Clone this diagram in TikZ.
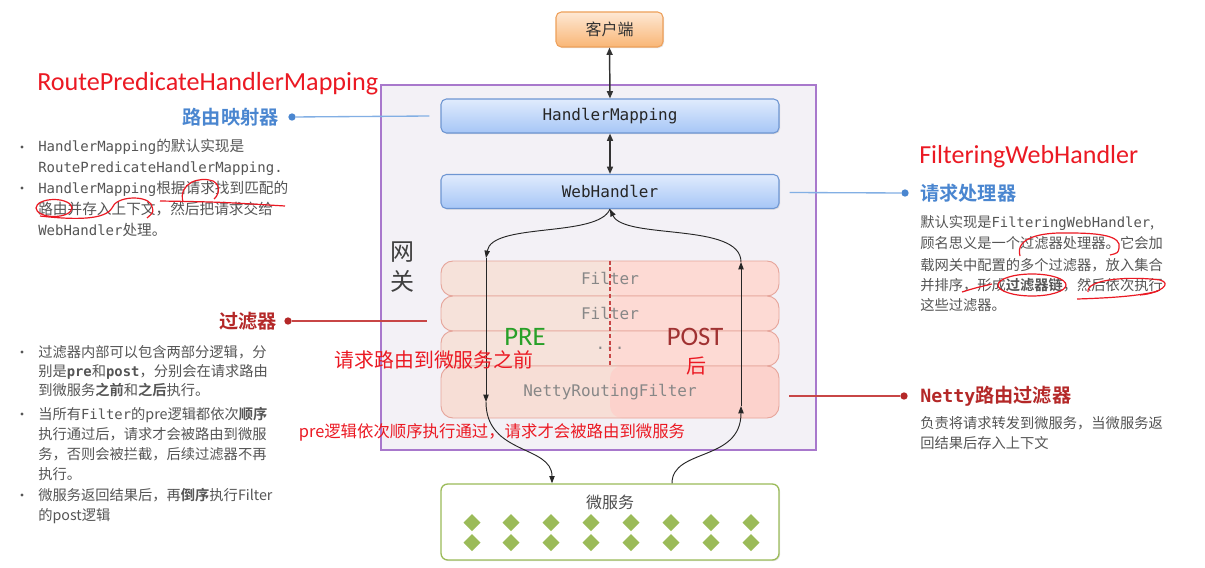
\documentclass[tikz,border=0pt]{standalone}
\usepackage{fontspec}
\setmainfont{Noto Sans CJK SC}[BoldFont={Noto Sans CJK SC Bold}]
\setmonofont{DejaVu Sans Mono}
\newfontfamily\carl{Carlito}
\usetikzlibrary{arrows.meta,shadows,calc}
\definecolor{gwfill}{RGB}{243,241,246}
\definecolor{gwdraw}{RGB}{168,120,204}
\definecolor{hmtop}{RGB}{224,235,253}
\definecolor{hmbot}{RGB}{166,198,246}
\definecolor{hmdraw}{RGB}{110,150,210}
\definecolor{cltop}{RGB}{254,232,212}
\definecolor{clbot}{RGB}{249,182,118}
\definecolor{cldraw}{RGB}{238,160,90}
\definecolor{fL}{RGB}{246,226,218}
\definecolor{fR}{RGB}{253,218,212}
\definecolor{fL2}{RGB}{247,222,214}
\definecolor{fR2}{RGB}{252,210,204}
\definecolor{fdraw}{RGB}{230,165,155}
\definecolor{msdraw}{RGB}{155,187,89}
\definecolor{dia}{RGB}{155,187,89}
\definecolor{txt}{RGB}{85,85,85}
\definecolor{hblue}{RGB}{74,134,208}
\definecolor{lblue}{RGB}{130,175,228}
\definecolor{hred}{RGB}{180,40,40}
\definecolor{lred}{RGB}{200,70,70}
\definecolor{annot}{RGB}{235,25,35}
\definecolor{pregreen}{RGB}{40,160,40}
\definecolor{postred}{RGB}{160,50,50}
\definecolor{ftxt}{RGB}{135,135,135}
\newcommand\mo[1]{{\ttfamily\fontsize{10.4pt}{12pt}\selectfont #1}}
\newcommand\moa[1]{{\ttfamily\fontsize{10.5pt}{12pt}\selectfont #1}}
\begin{document}
\begin{tikzpicture}[x=0.75pt,y=-0.75pt,
  shad/.style={drop shadow={shadow xshift=0.8pt,shadow yshift=-0.8pt,opacity=0.22}},
  bluebox/.style={draw=hmdraw,line width=0.8pt,rounded corners=4pt,top color=hmtop,bottom color=hmbot,
    minimum width=253.5pt,minimum height=25.5pt,inner sep=0,font=\fontsize{12pt}{12pt}\selectfont\ttfamily,text=black!85,shad},
  filt/.style={draw=fdraw,line width=0.7pt,rounded corners=9pt,fill=fL,minimum width=253.5pt,minimum height=26.25pt,
    inner sep=0,font=\fontsize{12pt}{12pt}\selectfont\ttfamily,text=ftxt,
    path picture={\fill[fR] (path picture bounding box.north) rectangle (path picture bounding box.south east);}},
  filtB/.style={filt,fill=fL2,minimum height=39pt,
    path picture={\fill[fR2] (path picture bounding box.north) rectangle (path picture bounding box.south east);}},
  dbl/.style={{Triangle[length=5.5pt,width=4.5pt]}-{Triangle[length=5.5pt,width=4.5pt]},line width=1.1pt,draw=black!80},
  arr/.style={-{Triangle[length=5.5pt,width=4pt]},line width=0.7pt,draw=black!85},
  para/.style={anchor=base west,inner sep=0,font=\fontsize{10.7pt}{12pt}\selectfont,text=txt},
  paraA/.style={anchor=base west,inner sep=0,font=\fontsize{11pt}{12pt}\selectfont,text=txt},
  hdr/.style={inner sep=0,font=\fontsize{14.4pt}{16pt}\selectfont\bfseries},
  ann/.style={draw=annot,line width=0.9pt},
  redt/.style={inner sep=0,text=annot},
  dotb/.style={circle,fill=hblue,inner sep=0,minimum size=5.5pt},
  dotr/.style={circle,fill=hred,inner sep=0,minimum size=5.5pt}]
\useasboundingbox[fill=white] (0,0) rectangle (1205,567);
% gateway
\draw[fill=gwfill,draw=gwdraw,line width=1pt] (381,85) rectangle (816,450);
\node[inner sep=0,align=center,text=black!75,font=\fontsize{18pt}{22.5pt}\selectfont] (gw) at (402,267) {网\\关};
% client and boxes
\node[draw=cldraw,line width=0.8pt,rounded corners=4pt,top color=cltop,bottom color=clbot,minimum width=80.25pt,minimum height=26.25pt,inner sep=0,font=\fontsize{12pt}{14pt}\selectfont,text=black!80,shad] (cl) at (609.5,29.5) {客户端};
\node[bluebox] (hm) at (610,116) {HandlerMapping};
\node[bluebox] (wh) at (610,191.5) {WebHandler};
\draw[dbl] (cl.south) -- (hm.north);
\draw[dbl] (hm.south) -- (wh.north);
% filters
\node[filt] (f1) at (610,278.5) {Filter};
\node[filt] (f2) at (610,313.5) {Filter};
\node[filt] (f3) at (610,348.5) {...};
\node[filtB] (f4) at (610,392) {NettyRoutingFilter};
\draw[lred,line width=0.8pt,dash pattern=on 3pt off 2pt] (f1.north) -- (f4.north);
% microservice
\node[draw=msdraw,line width=1pt,fill=white,rounded corners=5pt,minimum width=253.5pt,minimum height=57pt,shad] (ms) at (610,522) {};
\node[inner sep=0,text=black!70,font=\fontsize{12pt}{14pt}\selectfont] (msl) at (610,502) {微服务};
\foreach \x in {472,511,551,591,631,671,711,751}{
  \foreach \y in {522.7,542.7}{
    \fill[dia] ({\x},{\y-8.5}) -- ({\x+8.5},{\y}) -- ({\x},{\y+8.5}) -- ({\x-8.5},{\y}) -- cycle;
  }}
% flow arrows
\coordinate (pL1) at (486,258);
\coordinate (pL2) at (486,402);
\coordinate (pR1) at (741,262);
\coordinate (pR2) at (741,406);
\coordinate (msL) at ($(ms.north)+(-58,0)$);
\coordinate (msR) at ($(ms.north)+(62,0)$);
\draw[arr] (wh.south) .. controls (598,238) and (492,222) .. (pL1);
\draw[arr] (pL1) -- (pL2);
\draw[arr] (pL2) .. controls (486,455) and (552,445) .. (msL);
\draw[arr] (msR) .. controls (672,448) and (741,462) .. (pR2);
\draw[arr] (pR2) -- (pR1);
\draw[arr] (pR1) .. controls (741,222) and (624,240) .. (wh.south);
% PRE / POST labels
\node[inner sep=0,text depth=0pt,text=pregreen,font=\carl\fontsize{20pt}{22pt}\selectfont] (pre) at (525,337) {PRE};
\node[inner sep=0,text depth=0pt,text=postred,font=\carl\fontsize{20pt}{22pt}\selectfont] (post) at (695,337) {POST};
\node[redt,font=\fontsize{15pt}{16pt}\selectfont] (hou) at (696,366) {后};
\node[redt,font=\fontsize{14.9pt}{16pt}\selectfont] (before) at (434,360) {请求路由到微服务之前};
\node[redt,font=\fontsize{12.3pt}{14pt}\selectfont] (prenote) at (492,432) {pre逻辑依次顺序执行通过，请求才会被路由到微服务};
% left: route mapping
\node[redt,anchor=west,font=\carl\fontsize{19.6pt}{22pt}\selectfont] (rphm) at (37,84) {RoutePredicateHandlerMapping};
\node[hdr,anchor=east,text=hblue] (h1) at (279,117) {路由映射器};
\node[dotb] (d1) at (292,117) {};
\coordinate (e1) at ($(hm.west)+(-11,0)$);
\draw[lblue,line width=1pt] (d1) -- (e1);
\fill[txt] (22,147) circle (1.6);
\fill[txt] (22,188) circle (1.6);
\node[paraA] (a1) at (38,151) {\moa{HandlerMapping}的默认实现是};
\node[paraA] (a2) at (38,172) {\moa{RoutePredicateHandlerMapping.}};
\node[paraA] (a3) at (38,193) {\moa{HandlerMapping}根据请求找到匹配的};
\node[paraA] (a4) at (38,214) {路由并存入上下文，然后把请求交给};
\node[paraA] (a5) at (38,235) {\moa{WebHandler}处理。};
% left annotations
\draw[ann] (183,202) .. controls (178,183) and (200,176) .. (213,181) .. controls (222,186) and (218,196) .. (214,199);
\draw[ann] (160,201) .. controls (220,202) .. (285,206);
\draw[ann] (54,208) ellipse [x radius=18, y radius=8.5];
\draw[ann] (40,216) .. controls (75,220) and (105,220) .. (112,208) .. controls (116,196) and (145,195) .. (151,204) .. controls (154,212) .. (147,218);
% left: filters
\node[hdr,anchor=east,text=hred] (h2) at (277,321) {过滤器};
\node[dotr] (d2) at (288,321) {};
\coordinate (e2) at (427,321);
\draw[lred,line width=1pt] (d2) -- (e2);
\fill[txt] (22,352) circle (1.6);
\fill[txt] (22,414) circle (1.6);
\fill[txt] (22,495) circle (1.6);
\node[para] (b1) at (38,357) {过滤器内部可以包含两部分逻辑，分};
\node[para] (b2) at (38,376) {别是\textbf{\mo{pre}}和\textbf{\mo{post}}，分别会在请求路由};
\node[para] (b3) at (38,395) {到微服务\textbf{之前}和\textbf{之后}执行。};
\node[para] (b4) at (38,419) {当所有\mo{Filter}的pre逻辑都依次\textbf{顺序}};
\node[para] (b5) at (38,439) {执行通过后，请求才会被路由到微服};
\node[para] (b6) at (38,459) {务，否则会被拦截，后续过滤器不再};
\node[para] (b7) at (38,479) {执行。};
\node[para] (b8) at (38,500) {微服务返回结果后，再\textbf{倒序}执行Filter};
\node[para] (b9) at (38,520) {的post逻辑};
% right: web handler
\node[redt,anchor=west,font=\carl\fontsize{19.5pt}{22pt}\selectfont] (fwh) at (919,157) {FilteringWebHandler};
\node[dotb] (d3) at (905,193) {};
\node[hdr,anchor=west,text=hblue] (h3) at (920,193) {请求处理器};
\coordinate (e3) at ($(wh.east)+(10,1)$);
\draw[lblue,line width=1pt] (e3) -- (d3);
\node[para] (c1) at (920,227) {默认实现是\mo{FilteringWebHandler},};
\node[para] (c2) at (920,248) {顾名思义是一个过滤器处理器。它会加};
\node[para] (c3) at (920,270) {载网关中配置的多个过滤器，放入集合};
\node[para] (c4) at (920,290) {并排序，形成\textbf{过滤器链}，然后依次执行};
\node[para] (c5) at (920,310) {这些过滤器。};
% right annotations
\draw[ann] (1020,256) .. controls (1015,238) and (1040,232) .. (1070,233) .. controls (1100,233) and (1122,236) .. (1119,248) .. controls (1118,253) .. (1110,255);
\draw[ann] (962,292) .. controls (975,288) .. (992,284);
\draw[ann] (1032,285) ellipse [x radius=34, y radius=11];
\draw[ann] (1088,292) .. controls (1086,279) and (1130,276) .. (1160,280) .. controls (1172,283) and (1162,293) .. (1140,295);
\draw[ann] (1077,299) .. controls (1110,298) and (1140,296) .. (1158,291);
% right: netty
\node[dotr] (d4) at (904,396) {};
\node[hdr,anchor=west,text=hred] (h4) at (920,396) {{\ttfamily\fontsize{13.7pt}{16pt}\selectfont Netty}路由过滤器};
\coordinate (e4) at (789,396);
\draw[lred,line width=1pt] (e4) -- (d4);
\node[para] (n1) at (920,428) {负责将请求转发到微服务，当微服务返};
\node[para] (n2) at (920,448) {回结果后存入上下文};
\end{tikzpicture}
\end{document}
